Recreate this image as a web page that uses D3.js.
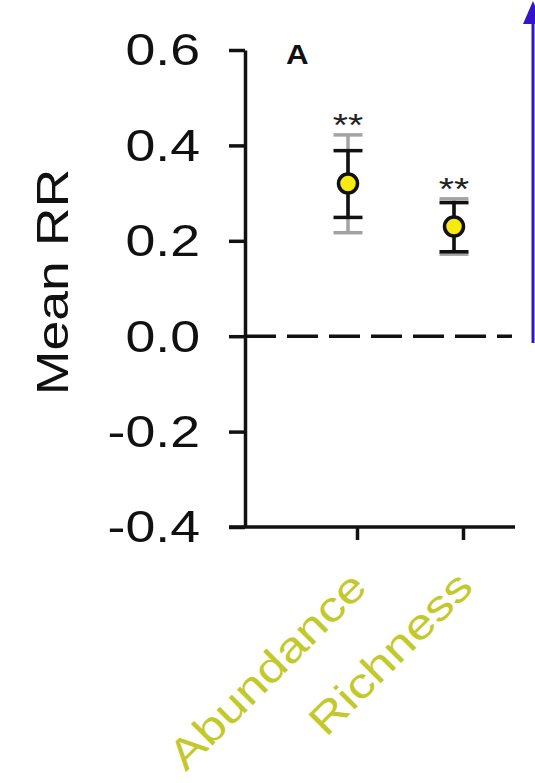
<!DOCTYPE html>
<html>
<head>
<meta charset="utf-8">
<script src="https://cdn.jsdelivr.net/npm/d3@7"></script>
<style>
  html, body { margin: 0; padding: 0; background: #fff; }
  svg { display: block; font-family: "Liberation Sans", Arial, sans-serif; }
</style>
</head>
<body>
<div id="chart"></div>
<script>
// Chart values
var categories = ["Abundance", "Richness"];
var mean_rr = [0.32, 0.23];
var ci_low = [0.249, 0.177];      // black bars
var ci_high = [0.389, 0.280];
var boot_low = [0.217, 0.172];    // grey bars
var boot_high = [0.422, 0.288];
var significance = ["**", "**"];
var y_ticks = [-0.4, -0.2, 0.0, 0.2, 0.4, 0.6];
var panel_label = "A";
var y_title = "Mean RR";

var width = 535,
    height = 783,
    axis_left = 245,
    axis_bottom = 527,
    text_stretch = 1.22; // the source font is wider than Arial

var rows = categories.map(function (c, i) {
  return {
    name: c,
    mean: mean_rr[i],
    lo: ci_low[i], hi: ci_high[i],
    blo: boot_low[i], bhi: boot_high[i],
    sig: significance[i]
  };
});

var y = d3.scaleLinear().domain([-0.4, 0.6]).range([axis_bottom, 50]);
var x = d3.scalePoint().domain(categories).range([357, 463]);
var dodge = -9; // points sit a little left of their tick

var svg = d3.select("#chart").append("svg")
    .attr("width", width)
    .attr("height", height);

// zero reference line
svg.append("line")
    .attr("x1", axis_left).attr("x2", 512)
    .attr("y1", y(0)).attr("y2", y(0))
    .attr("stroke", "#111")
    .attr("stroke-width", 3.5)
    .attr("stroke-dasharray", "31,11");

// y axis
var y_axis = svg.append("g")
    .attr("transform", "translate(" + axis_left + ",0)")
    .call(d3.axisLeft(y).tickValues(y_ticks).tickFormat(d3.format(".1f"))
        .tickSize(16).tickSizeOuter(0));
y_axis.select(".domain").attr("stroke", "#111").attr("stroke-width", 3.5);
y_axis.selectAll(".tick line").attr("stroke", "#111").attr("stroke-width", 3.5);
y_axis.selectAll(".tick text")
    .attr("x", 0)
    .attr("dy", "0.34em")
    .attr("transform", "translate(-45,0) scale(" + text_stretch + ",1)")
    .attr("fill", "#111")
    .style("font-size", "44px")
    .text(function (d) { return d3.format(".1f")(d).replace("−", "-"); });

// x axis: a plain line, ticks from the point scale
svg.append("line")
    .attr("x1", 229).attr("x2", 515)
    .attr("y1", axis_bottom).attr("y2", axis_bottom)
    .attr("stroke", "#111").attr("stroke-width", 3.5);
var x_axis = svg.append("g")
    .attr("transform", "translate(0," + axis_bottom + ")")
    .call(d3.axisBottom(x).tickSize(13).tickSizeOuter(0).tickFormat(""));
x_axis.select(".domain").remove();
x_axis.selectAll(".tick line").attr("stroke", "#111").attr("stroke-width", 3.5);

// category labels, rotated
svg.selectAll(".cat-label")
    .data(categories)
  .enter().append("text")
    .attr("class", "cat-label")
    .attr("transform", function (d) {
      return "translate(" + (x(d) + 12) + ",589) rotate(-45) scale(" + text_stretch + ",1)";
    })
    .attr("text-anchor", "end")
    .attr("fill", "#c3c92b")
    .style("font-size", "42px")
    .text(function (d) { return d; });

// y title
svg.append("text")
    .attr("transform", "translate(68,282) rotate(-90) scale(" + text_stretch + ",1)")
    .attr("text-anchor", "middle")
    .attr("fill", "#111")
    .style("font-size", "44px")
    .text(y_title);

// panel letter
svg.append("text")
    .attr("transform", "translate(286,64) scale(1.12,1)")
    .attr("fill", "#111")
    .style("font-size", "28px")
    .style("font-weight", "bold")
    .text(panel_label);

function error_bar(g, lo_key, hi_key, colour) {
  g.append("line")
      .attr("x1", 0).attr("x2", 0)
      .attr("y1", function (d) { return y(d[lo_key]); })
      .attr("y2", function (d) { return y(d[hi_key]); })
      .attr("stroke", colour).attr("stroke-width", 3.5);
  [lo_key, hi_key].forEach(function (k) {
    g.append("line")
        .attr("x1", -14.5).attr("x2", 14.5)
        .attr("y1", function (d) { return y(d[k]); })
        .attr("y2", function (d) { return y(d[k]); })
        .attr("stroke", colour).attr("stroke-width", 3.5);
  });
}

var points = svg.selectAll(".point")
    .data(rows)
  .enter().append("g")
    .attr("class", "point")
    .attr("transform", function (d) { return "translate(" + (x(d.name) + dodge) + ",0)"; });

points.call(error_bar, "blo", "bhi", "#a3a3a3");
points.call(error_bar, "lo", "hi", "#111");

points.append("circle")
    .attr("cy", function (d) { return y(d.mean); })
    .attr("r", 9.5)
    .attr("fill", "#f7ea10")
    .attr("stroke", "#111")
    .attr("stroke-width", 3.5);

points.append("text")
    .attr("y", function (d) { return y(d.bhi) + 1; })
    .attr("transform", "scale(" + text_stretch + ",1)")
    .attr("text-anchor", "middle")
    .attr("fill", "#222")
    .style("font-size", "32px")
    .text(function (d) { return d.sig; });

// blue arrow on the right edge
svg.append("line")
    .attr("x1", 533).attr("x2", 533)
    .attr("y1", 20).attr("y2", 343)
    .attr("stroke", "#3314cc").attr("stroke-width", 3);
svg.append("path")
    .attr("d", d3.line()([[533, 1], [523, 24], [543, 24]]) + "Z")
    .attr("fill", "#3314cc");
</script>
</body>
</html>
